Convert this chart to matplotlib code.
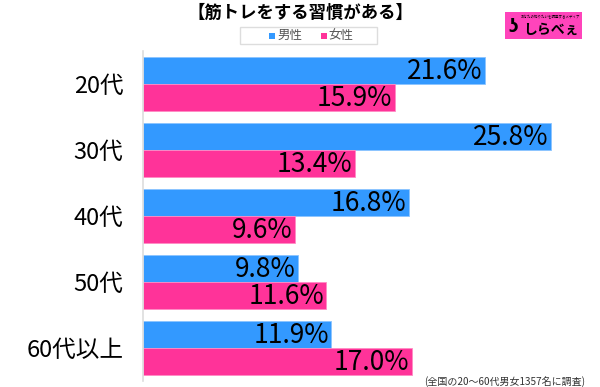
import matplotlib
matplotlib.use("Agg")
from matplotlib import pyplot as plt
from matplotlib.patches import Rectangle
import numpy as np

plt.rcParams['font.family'] = ['Noto Sans CJK JP', 'DejaVu Sans']

categories = ['20代', '30代', '40代', '50代', '60代以上']
male = [21.6, 25.8, 16.8, 9.8, 11.9]
female = [15.9, 13.4, 9.6, 11.6, 17.0]
series_names = ['男性', '女性']
title = '【筋トレをする習慣がある】'
note = '(全国の20～60代男女1357名に調査)'

blue = '#3399FF'
pink = '#FF3399'

fig = plt.figure(figsize=(6, 3.87), dpi=100)
ax = fig.add_axes([0.238, 0.0155, 0.752, 0.8525])

y = np.arange(len(categories))
h = 0.41
ax.barh(y - h / 2, male, height=h, color=blue, edgecolor='#8cc4ff', linewidth=0.6)
ax.barh(y + h / 2, female, height=h, color=pink, edgecolor='#ff8cc4', linewidth=0.6)

for i in range(len(categories)):
    ax.text(male[i] - 0.15, y[i] - h / 2 + 0.02, f'{male[i]:.1f}%', ha='right', va='center',
            fontsize=19, color='black')
    ax.text(female[i] - 0.15, y[i] + h / 2 + 0.02, f'{female[i]:.1f}%', ha='right', va='center',
            fontsize=19, color='black')

ax.set_xlim(0, 28.5)
ax.set_ylim(len(categories) - 0.5, -0.5)
ax.set_yticks(y)
ax.set_yticklabels(categories, fontsize=17)
ax.tick_params(axis='y', length=0, pad=14)
ax.set_xticks([])
for s in ['top', 'right', 'bottom']:
    ax.spines[s].set_visible(False)
ax.spines['left'].set_color('#dddddd')
ax.spines['left'].set_linewidth(1.2)

fig.text(0.5, 0.966, title, ha='center', va='center', fontsize=12.5, fontweight='bold')

# legend box
fig.patches.append(Rectangle((0.4, 0.887), 0.228, 0.043, transform=fig.transFigure,
                             facecolor='white', edgecolor='#dddddd', linewidth=1))
fig.patches.append(Rectangle((0.449, 0.9), 0.01, 0.016, transform=fig.transFigure,
                             facecolor=blue, edgecolor='none'))
fig.text(0.462, 0.908, series_names[0], ha='left', va='center', fontsize=9, color='#555555')
fig.patches.append(Rectangle((0.535, 0.9), 0.01, 0.016, transform=fig.transFigure,
                             facecolor=pink, edgecolor='none'))
fig.text(0.548, 0.908, series_names[1], ha='left', va='center', fontsize=9, color='#555555')

# logo
fig.patches.append(Rectangle((0.842, 0.9), 0.128, 0.07, transform=fig.transFigure,
                             facecolor='#FF44BB', edgecolor='none'))
fig.text(0.918, 0.955, 'あなたの知りたいを調査するメディア', ha='center', va='center', fontsize=2.5)
fig.text(0.918, 0.922, 'しらべぇ', ha='center', va='center', fontsize=10, fontweight='bold')
fig.text(0.856, 0.93, 'ʖ', ha='center', va='center', fontsize=12, fontweight='bold')

fig.text(0.975, 0.013, note, ha='right', va='center', fontsize=7.2, color='#333333')

fig.savefig('out.png', dpi=100)
